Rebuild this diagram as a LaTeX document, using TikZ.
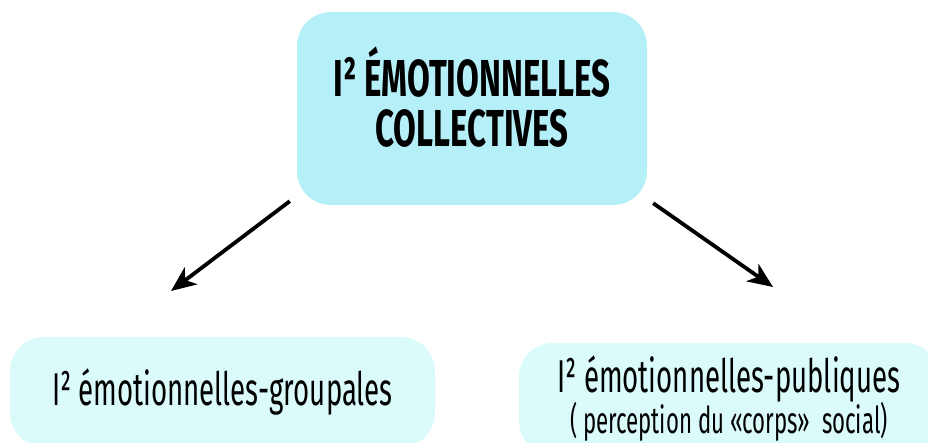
\documentclass[tikz,border=0pt]{standalone}
\usepackage{fontspec}
\setmainfont{Fira Sans}[FakeStretch=0.6]
\newfontfamily\headfont{Fira Sans}[FakeStretch=0.635, UprightFont=* Bold]
\usepackage{xcolor}
\usetikzlibrary{arrows.meta, positioning}

\definecolor{topcyan}{HTML}{B5EFF8}
\definecolor{palecyan}{HTML}{DBFBFB}

\begin{document}
\begin{tikzpicture}[
  x=1pt, y=-1pt,
  box/.style={rounded corners=34pt, align=center, inner sep=0pt},
  arrow/.style={-{Stealth[length=25pt, width=21pt, inset=7pt]}, line width=3.8pt}
]
\useasboundingbox (0,0) rectangle (928,443);
\clip (0,0) rectangle (928,443);
\node[box, fill=topcyan, minimum width=350pt, minimum height=193pt,
  text height=77pt, text depth=0pt,
  font=\headfont\fontsize{52}{50}\selectfont] (collective) at (472,108.5)
  {I² ÉMOTIONNELLES\\COLLECTIVES};
\node[box, fill=palecyan, minimum width=425pt, minimum height=110pt,
  font=\fontsize{46}{46}\selectfont] (groupal) at (222.5,392)
  {I² émotionnelles-groupales};
\node[box, fill=palecyan, minimum width=420pt, minimum height=112pt,
  font=\fontsize{46}{46}\selectfont] (public) at (729,399)
  {I² émotionnelles-publiques\\[-5pt]{\fontsize{37}{37}\selectfont( perception du «corps»\ \ social)}};
\coordinate (gtip) at (171,291);
\coordinate (ptip) at (773,287);
\draw[arrow] ([shift={(-7,-4)}]collective.south west) -- (gtip);
\draw[arrow] ([shift={(6,-2)}]collective.south east) -- (ptip);
\end{tikzpicture}
\end{document}
